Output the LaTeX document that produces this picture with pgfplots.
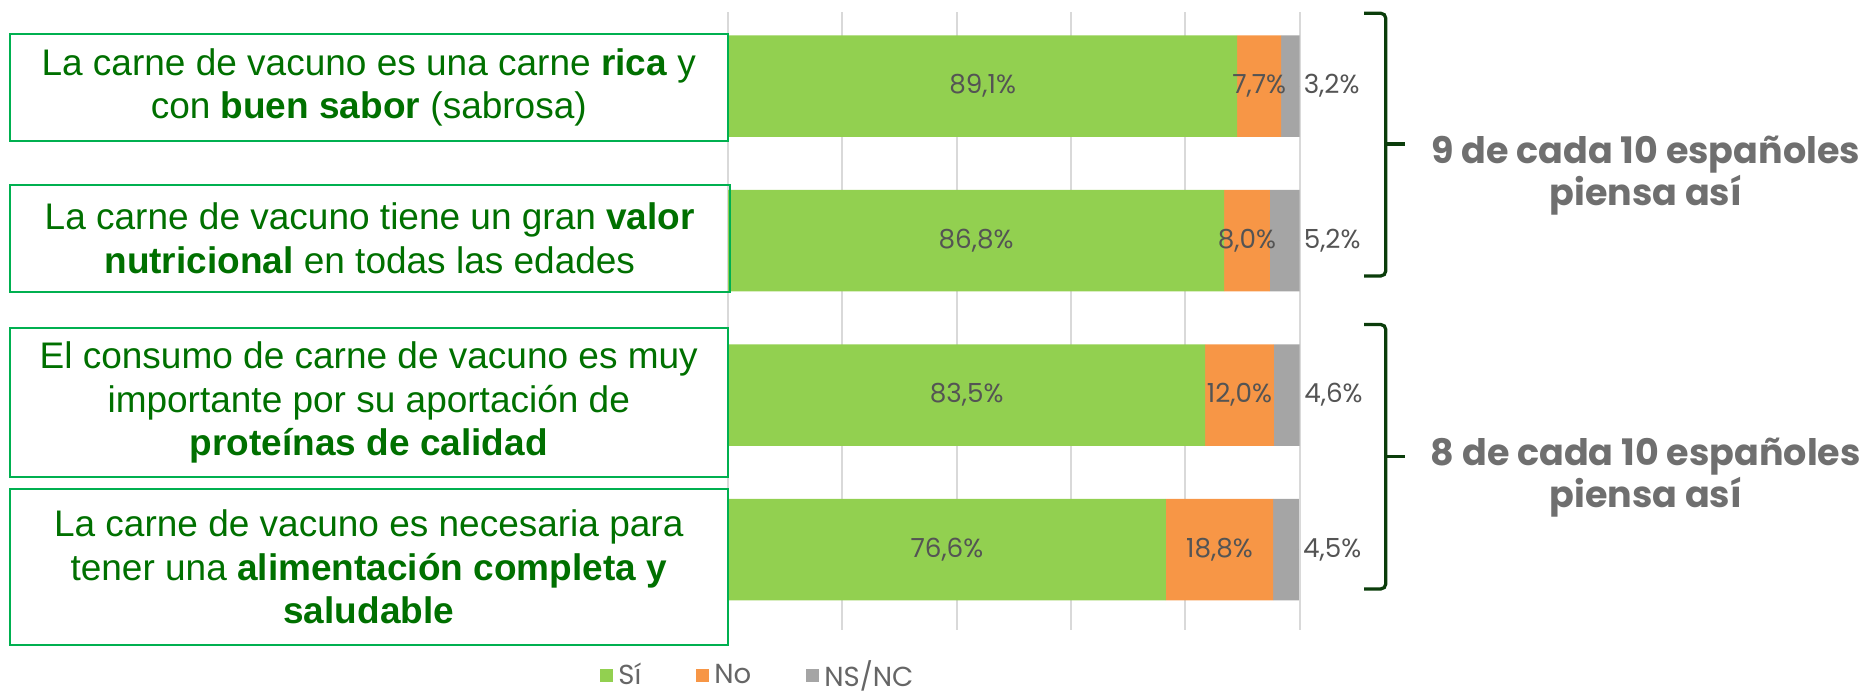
\documentclass[border=0pt]{standalone}
\usepackage{fontspec}
\setmainfont{Liberation Sans}
\newfontfamily\gothic{Poppins}
\usepackage{pgfplots}
\pgfplotsset{compat=1.18}
\usepackage{pgfplotstable}
\definecolor{csi}{HTML}{92D050}
\definecolor{cno}{HTML}{F79646}
\definecolor{cns}{HTML}{A5A5A5}
\definecolor{cgrid}{HTML}{D9D9D9}
\definecolor{clabel}{HTML}{545454}
\definecolor{clegend}{HTML}{666666}
\definecolor{cboxtxt}{HTML}{007000}
\definecolor{cboxline}{HTML}{00B050}
\definecolor{cbrace}{HTML}{0B3D0B}
\definecolor{cgroup}{HTML}{6F6F6F}

% one row per statement, top (y=3) to bottom (y=0)
\pgfplotstableread{
y si no ns
3 89.1 7.7 3.2
2 86.8 8.0 5.2
1 83.5 12.0 4.6
0 76.6 18.8 4.5
}\opinion

\pgfplotsset{
  barax/.style={
    at={(291.2pt,25.2pt)}, anchor=south west,
    scale only axis, width=228.6pt, height=247.2pt,
    xmin=0, xmax=100, ymin=-0.52, ymax=3.48,
  },
  sqlegend/.style={
    legend image code/.code={\fill[##1] (0pt,-2.6pt) rectangle (5.2pt,2.6pt);}},
  pct/.style={
    only marks, mark=*, mark size=0pt, mark options={draw=none, fill=none},
    point meta=explicit,
    nodes near coords={\pgfmathprintnumber[fixed, fixed zerofill, precision=1,
      use comma, assume math mode=true]{\pgfplotspointmeta}\%},
    every node near coord/.append style={
      font=\gothic\fontsize{10.5}{12}\selectfont, text=clabel, inner sep=1pt},
  },
}

\begin{document}
\begin{tikzpicture}[x=1pt, y=1pt]
\useasboundingbox (0,0) rectangle (748.4,277.2);

\begin{axis}[barax,
  xbar stacked, bar width=0.656,
  xtick={0,20,...,100}, xticklabels={}, ytick=\empty,
  xmajorgrids, grid style={draw=cgrid, line width=0.8pt},
  major tick length=0pt, axis line style={draw=none},
  legend columns=3,
  legend style={draw=none, fill=none, inner sep=1pt,
    at={(axis description cs:0.055,-0.074)}, anchor=center,
    font=\gothic\fontsize{11}{12}\selectfont, text=clegend,
    /tikz/every even column/.append style={column sep=20pt}},
]
\addplot[fill=csi, draw=none, sqlegend] table[x=si, y=y] \opinion;
\addlegendentry{Sí}
\addplot[fill=cno, draw=none, sqlegend] table[x=no, y=y] \opinion;
\addlegendentry{No}
\addplot[fill=cns, draw=none, sqlegend] table[x=ns, y=y] \opinion;
\addlegendentry{NS/NC}
\end{axis}

% value labels, centred in their segment (NS/NC just past the bar end)
\begin{axis}[barax, hide axis, clip=false]
\addplot[pct, every node near coord/.append style={anchor=center}]
  table[x expr=\thisrow{si}/2, y=y, meta=si] \opinion;
\addplot[pct, every node near coord/.append style={anchor=center}]
  table[x expr=\thisrow{si}+\thisrow{no}/2, y=y, meta=no] \opinion;
\addplot[pct, every node near coord/.append style={anchor=west, xshift=0.5pt}]
  table[x expr=\thisrow{si}+\thisrow{no}+\thisrow{ns}, y=y, meta=ns] \opinion;
\end{axis}

% statement boxes
\begin{scope}[draw=cboxline, line width=0.8pt]
  \draw (3.8,263.6) rectangle (291.2,220.7);
  \draw (3.8,203.2) rectangle (292.0,160.3);
  \draw (3.8,146.0) rectangle (291.2,86.3);
  \draw (3.8,81.6) rectangle (291.2,19.0);
\end{scope}
\begin{scope}[every node/.style={align=center, text=cboxtxt,
    font=\fontsize{14.8}{17.4}\selectfont}]
  \node at (147.5,242.2) {La carne de vacuno es una carne \textbf{rica} y\\
    con \textbf{buen sabor} (sabrosa)};
  \node at (147.9,181.8) {La carne de vacuno tiene un gran \textbf{valor}\\
    \textbf{nutricional} en todas las edades};
  \node at (147.5,116.2) {El consumo de carne de vacuno es muy\\
    importante por su aportación de\\ \textbf{proteínas de calidad}};
  \node at (147.5,50.3) {La carne de vacuno es necesaria para\\
    tener una \textbf{alimentación completa y}\\ \textbf{saludable}};
\end{scope}

% group braces and captions
\begin{scope}[draw=cbrace, line width=1.3pt, rounded corners=2pt]
  \draw (545.6,271.9) -- (554.3,271.9) -- (554.3,166.8) -- (545.6,166.8);
  \draw (554.3,219.6) -- (562.0,219.6);
  \draw (545.6,147.4) -- (554.3,147.4) -- (554.3,41.6) -- (545.6,41.6);
  \draw (554.3,94.5) -- (562.0,94.5);
\end{scope}
\begin{scope}[every node/.style={align=center, text=cgroup,
    font=\gothic\bfseries\fontsize{14.6}{15.8}\selectfont}]
  \node at (658.3,206.9) {9 de cada 10 españoles\\piensa así};
  \node at (658.3,86.2) {8 de cada 10 españoles\\piensa así};
\end{scope}
\end{tikzpicture}
\end{document}
